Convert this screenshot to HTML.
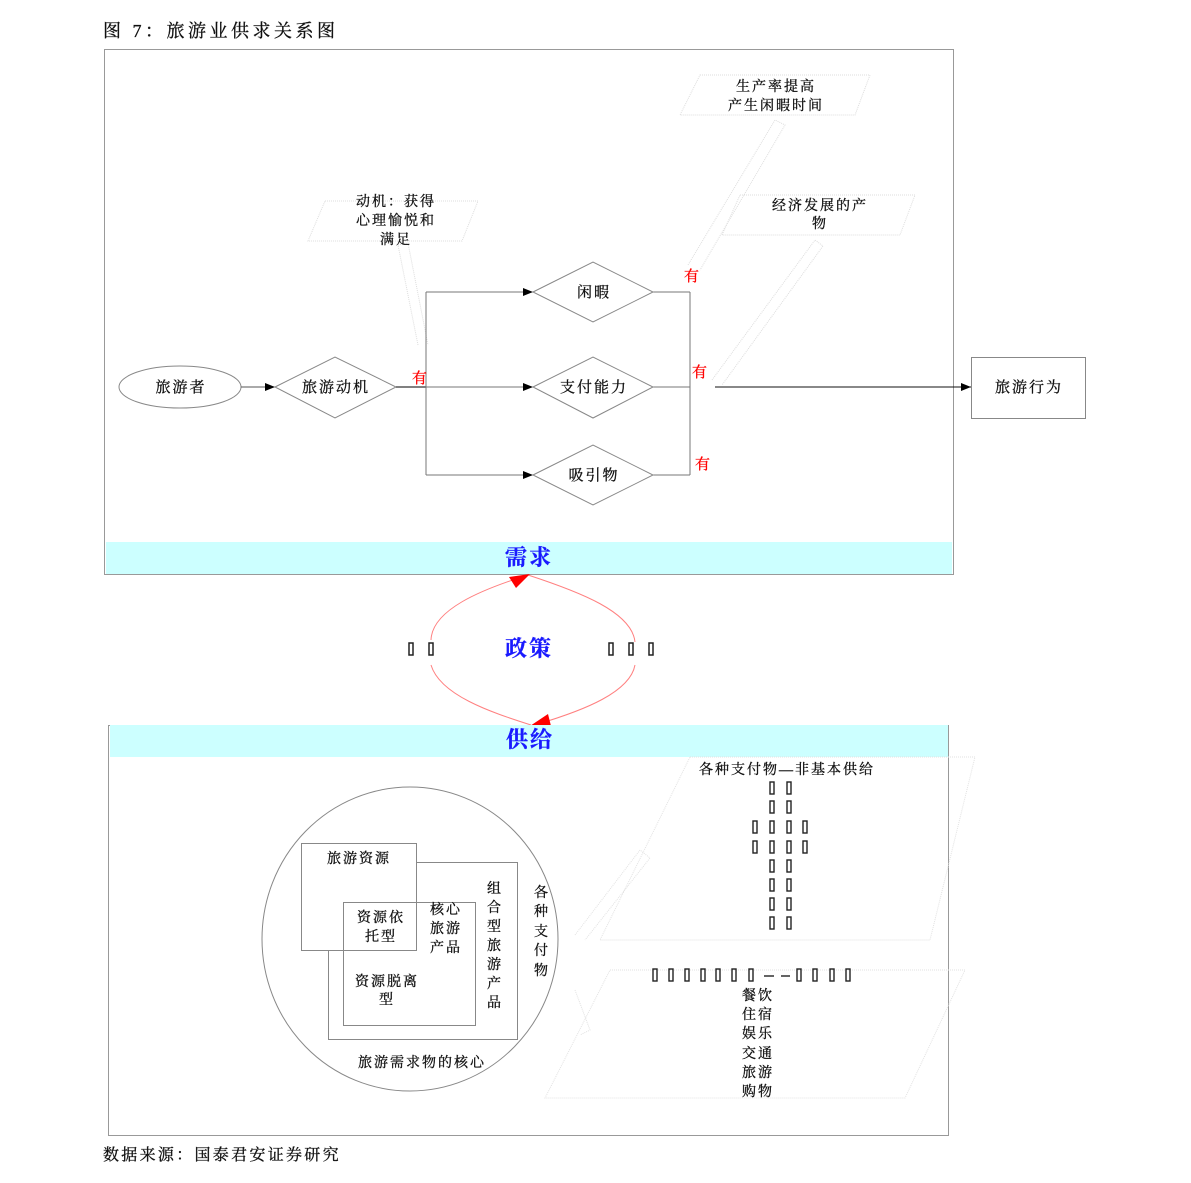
<!DOCTYPE html>
<html><head><meta charset="utf-8"><style>
html,body{margin:0;padding:0;background:#fff;}
svg{display:block;}
text{font-family:"Liberation Serif","Noto Serif CJK SC",serif;fill:#111;stroke:#111;stroke-width:0.3;}
.s{letter-spacing:2px;}
</style></head><body>
<svg width="1191" height="1183" viewBox="0 0 1191 1183" xmlns="http://www.w3.org/2000/svg">
<defs>
<marker id="ar" markerWidth="10" markerHeight="8" refX="10" refY="4" orient="auto" markerUnits="userSpaceOnUse">
<path d="M0,0 L10,4 L0,8 z" fill="#000"/></marker>
</defs>
<text x="103" y="37" font-size="18" style="letter-spacing:3.5px">图 7：旅游业供求关系图</text>

<!-- top box -->
<rect x="104.5" y="49.5" width="849" height="525" fill="#fff" stroke="#999"/>
<rect x="106" y="542" width="846" height="32" fill="#ccffff"/>
<text x="529" y="565" font-size="22" text-anchor="middle" style="fill:#1a1aff;stroke:#1a1aff;font-weight:bold;letter-spacing:2px">需求</text>

<!-- faint parallelograms -->
<g fill="none" stroke="#ddd" stroke-dasharray="1,1">
<polygon points="700,75 870,75 855,115 680,115"/>
<polygon points="740,195 915,195 900,235 722,235"/>
<polygon points="325,201 478,201 462,241 308,241"/>
<polyline points="688,265 775,120 785,125 700,270"/>
<polyline points="712,380 815,240 823,246 722,385"/>
<polyline points="418,345 398,245 408,243 428,345"/>
</g>
<g font-size="14" class="s">
<text x="776" y="91" text-anchor="middle">生产率提高</text>
<text x="776" y="110" text-anchor="middle">产生闲暇时间</text>
<text x="820" y="210" text-anchor="middle">经济发展的产</text>
<text x="820" y="228" text-anchor="middle">物</text>
<text x="396" y="206" text-anchor="middle">动机：获得</text>
<text x="396" y="225" text-anchor="middle">心理愉悦和</text>
<text x="396" y="244" text-anchor="middle">满足</text>
</g>

<!-- flow -->
<ellipse cx="180" cy="387" rx="61" ry="21" fill="#fff" stroke="#888"/>
<text x="181" y="392" font-size="15" text-anchor="middle" class="s">旅游者</text>
<line x1="241" y1="387" x2="275" y2="387" stroke="#555" marker-end="url(#ar)"/>
<polygon points="275,387 335,357 396,387 335,418" fill="#fff" stroke="#888"/>
<text x="336" y="392" font-size="15" text-anchor="middle" class="s">旅游动机</text>
<g stroke="#777" fill="none">
<line x1="396" y1="387" x2="426" y2="387" stroke="#000"/>
<line x1="426" y1="292" x2="426" y2="475"/>
<line x1="426" y1="292" x2="533" y2="292" marker-end="url(#ar)"/>
<line x1="426" y1="387" x2="533" y2="387" marker-end="url(#ar)"/>
<line x1="426" y1="475" x2="533" y2="475" marker-end="url(#ar)"/>
<line x1="653" y1="292" x2="690" y2="292"/>
<line x1="653" y1="475" x2="690" y2="475"/>
<line x1="690" y1="292" x2="690" y2="475"/>
<line x1="653" y1="387" x2="690" y2="387"/>
</g>
<line x1="715" y1="387" x2="971" y2="387" stroke="#111" marker-end="url(#ar)"/>
<g fill="#fff" stroke="#888">
<polygon points="533,292 593,262 653,292 593,322"/>
<polygon points="533,387 593,357 653,387 593,418"/>
<polygon points="533,475 593,445 653,475 593,505"/>
</g>
<g font-size="15" class="s">
<text x="594" y="297" text-anchor="middle">闲暇</text>
<text x="594" y="392" text-anchor="middle">支付能力</text>
<text x="594" y="480" text-anchor="middle">吸引物</text>
</g>
<g font-size="15">
<text x="412" y="383" style="fill:#f00;stroke:#f00">有</text>
<text x="684" y="281" style="fill:#f00;stroke:#f00">有</text>
<text x="692" y="377" style="fill:#f00;stroke:#f00">有</text>
<text x="695" y="469" style="fill:#f00;stroke:#f00">有</text>
</g>
<rect x="971.5" y="357.5" width="114" height="61" fill="#fff" stroke="#888"/>
<text x="1029" y="392" font-size="15" text-anchor="middle" class="s">旅游行为</text>

<!-- policy -->
<g fill="none" stroke="#ff8080">
<path d="M528,575 C480,590 432,610 431,640"/>
<path d="M431,665 C440,695 490,712 531,725"/>
<path d="M528,575 C580,592 632,612 635,642"/>
<path d="M635,665 C630,692 585,710 538,724"/>
</g>
<polygon points="530,574 509,577 516,588" fill="#f00"/>
<polygon points="530,726 548,714 551,726" fill="#f00"/>
<text x="529" y="656" font-size="22" text-anchor="middle" style="fill:#1a1aff;stroke:#1a1aff;font-weight:bold;letter-spacing:2px">政策</text>
<g fill="none" stroke="#222" stroke-width="1.5">
<rect x="409" y="643" width="4" height="12"/><rect x="429" y="643" width="4" height="12"/>
<rect x="609" y="643" width="4" height="12"/><rect x="629" y="643" width="4" height="12"/><rect x="649" y="643" width="4" height="12"/>
</g>

<!-- bottom box -->
<rect x="108.5" y="725.5" width="840" height="410" fill="#fff" stroke="#999"/>
<rect x="110" y="725" width="838" height="32" fill="#ccffff"/>
<text x="530" y="747" font-size="22" text-anchor="middle" style="fill:#1a1aff;stroke:#1a1aff;font-weight:bold;letter-spacing:2px">供给</text>

<g fill="none" stroke="#e2e2e2" stroke-dasharray="1,1">
<polygon points="690,757 975,757 930,940 600,940"/>
<polygon points="610,970 965,970 905,1098 545,1098"/>
<polyline points="575,935 640,850 650,858 585,940"/>
<polyline points="575,990 590,1030 580,1035"/>
</g>

<ellipse cx="410" cy="939" rx="148" ry="152" fill="#fff" stroke="#888"/>
<rect x="328.5" y="862.5" width="189" height="177" fill="#fff" stroke="#888"/>
<rect x="301.5" y="843.5" width="115" height="107" fill="#fff" stroke="#888"/>
<rect x="343.5" y="902.5" width="132" height="123" fill="none" stroke="#888"/>
<g font-size="14" class="s">
<text x="359" y="863" text-anchor="middle">旅游资源</text>
<text x="381" y="922" text-anchor="middle">资源依</text>
<text x="381" y="941" text-anchor="middle">托型</text>
<text x="446" y="914" text-anchor="middle">核心</text>
<text x="446" y="933" text-anchor="middle">旅游</text>
<text x="446" y="952" text-anchor="middle">产品</text>
<text x="387" y="986" text-anchor="middle">资源脱离</text>
<text x="387" y="1004" text-anchor="middle">型</text>
<text x="422" y="1067" text-anchor="middle">旅游需求物的核心</text>
<text x="787" y="774" text-anchor="middle">各种支付物—非基本供给</text>
<text x="758" y="1000" text-anchor="middle">餐饮</text>
<text x="758" y="1019" text-anchor="middle">住宿</text>
<text x="758" y="1038" text-anchor="middle">娱乐</text>
<text x="758" y="1058" text-anchor="middle">交通</text>
<text x="758" y="1077" text-anchor="middle">旅游</text>
<text x="758" y="1096" text-anchor="middle">购物</text>
</g>
<g font-size="14">
<text x="494" y="893" text-anchor="middle">组</text>
<text x="494" y="912" text-anchor="middle">合</text>
<text x="494" y="931" text-anchor="middle">型</text>
<text x="494" y="950" text-anchor="middle">旅</text>
<text x="494" y="969" text-anchor="middle">游</text>
<text x="494" y="988" text-anchor="middle">产</text>
<text x="494" y="1007" text-anchor="middle">品</text>
<text x="541" y="897" text-anchor="middle">各</text>
<text x="541" y="916" text-anchor="middle">种</text>
<text x="541" y="936" text-anchor="middle">支</text>
<text x="541" y="955" text-anchor="middle">付</text>
<text x="541" y="975" text-anchor="middle">物</text>
</g>
<g fill="none" stroke="#222" stroke-width="1.4">
<rect x="770" y="782" width="4" height="12"/><rect x="787" y="782" width="4" height="12"/>
<rect x="770" y="801" width="4" height="12"/><rect x="787" y="801" width="4" height="12"/>
<rect x="753" y="821" width="4" height="12"/><rect x="770" y="821" width="4" height="12"/><rect x="787" y="821" width="4" height="12"/><rect x="803" y="821" width="4" height="12"/>
<rect x="753" y="841" width="4" height="12"/><rect x="770" y="841" width="4" height="12"/><rect x="787" y="841" width="4" height="12"/><rect x="803" y="841" width="4" height="12"/>
<rect x="770" y="860" width="4" height="12"/><rect x="787" y="860" width="4" height="12"/>
<rect x="770" y="879" width="4" height="12"/><rect x="787" y="879" width="4" height="12"/>
<rect x="770" y="898" width="4" height="12"/><rect x="787" y="898" width="4" height="12"/>
<rect x="770" y="917" width="4" height="12"/><rect x="787" y="917" width="4" height="12"/>
<rect x="653" y="969" width="4" height="12"/><rect x="669" y="969" width="4" height="12"/><rect x="685" y="969" width="4" height="12"/><rect x="701" y="969" width="4" height="12"/>
<rect x="716" y="969" width="4" height="12"/><rect x="732" y="969" width="4" height="12"/><rect x="749" y="969" width="4" height="12"/>
<rect x="797" y="969" width="4" height="12"/><rect x="813" y="969" width="4" height="12"/><rect x="830" y="969" width="4" height="12"/><rect x="846" y="969" width="4" height="12"/>
<line x1="764" y1="976" x2="774" y2="976"/><line x1="781" y1="976" x2="790" y2="976"/>
</g>

<text x="103" y="1160" font-size="16" style="letter-spacing:2.3px">数据来源：国泰君安证券研究</text>
</svg>
</body></html>
